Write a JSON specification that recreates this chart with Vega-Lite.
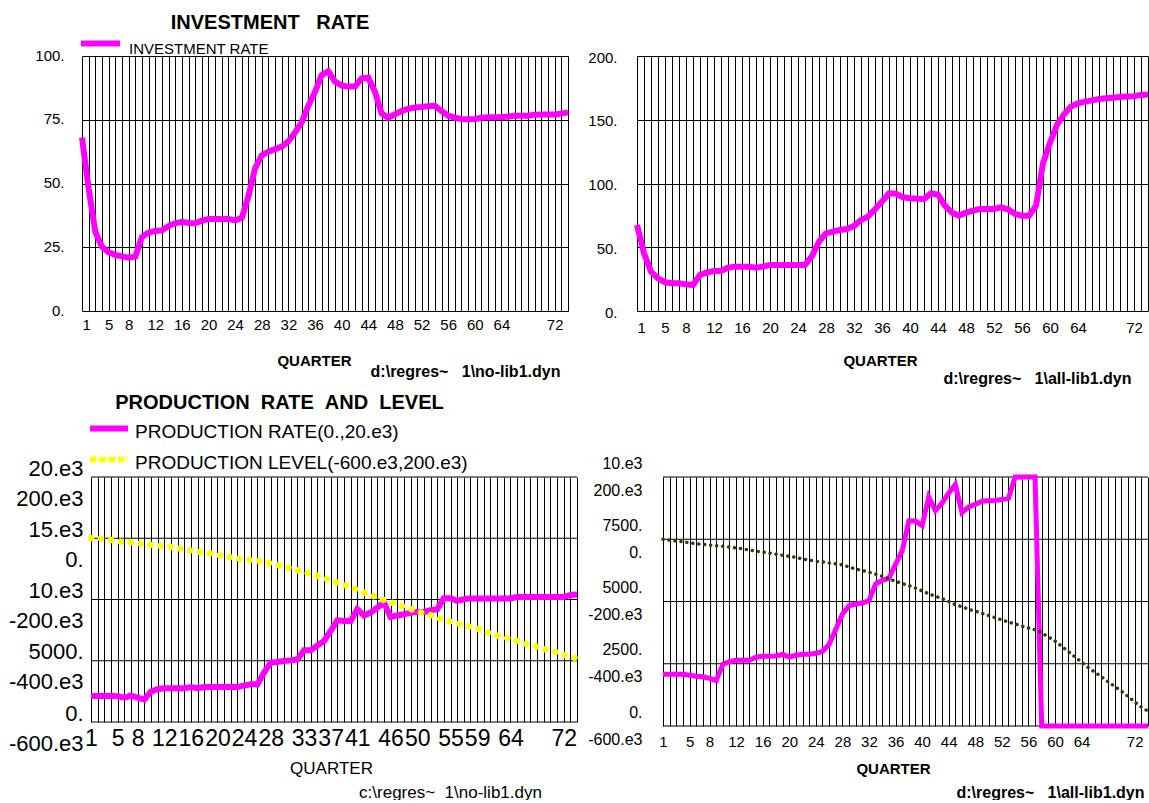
{
  "$schema": "https://vega.github.io/schema/vega-lite/v6.json",
  "background": "white",
  "padding": {"left": 8, "top": 13, "right": 0, "bottom": 0},
  "columns": 2,
  "bounds": "flush",
  "spacing": {"row": 166, "column": 60},
  "resolve": {"scale": {"color": "independent", "x": "independent", "y": "independent"}, "legend": {"color": "independent"}},
  "config": {
    "font": "Liberation Sans",
    "view": {"stroke": null},
    "axis": {"domain": false, "ticks": false, "labelColor": "#000", "titleColor": "#000", "gridColor": "#000", "gridOpacity": 1, "gridWidth": 1, "labelOverlap": false, "labelBound": false, "labelFont": "Liberation Sans", "titleFont": "Liberation Sans", "titlePadding": 0},
    "legend": {"labelColor": "#000", "labelFont": "Liberation Sans", "padding": 0, "labelLimit": 0},
    "title": {"color": "#000"}
  },
  "datasets": {
    "d": [
      {"q":1,"inv1":68,"inv2":67.5,"rate1":2122,"level1":0,"rate2":2076,"level2":0},
      {"q":2,"inv1":48,"inv2":45.3,"rate1":2122,"level1":0,"rate2":2076,"level2":-3000},
      {"q":3,"inv1":31,"inv2":30.9,"rate1":2122,"level1":-2000,"rate2":2076,"level2":-5500},
      {"q":4,"inv1":25.2,"inv2":25.6,"rate1":2122,"level1":-5600,"rate2":2076,"level2":-8000},
      {"q":5,"inv1":23,"inv2":22.5,"rate1":2095,"level1":-10000,"rate2":2040,"level2":-11500},
      {"q":6,"inv1":22,"inv2":21.7,"rate1":1990,"level1":-12000,"rate2":1996,"level2":-14000},
      {"q":7,"inv1":21.4,"inv2":21.7,"rate1":2150,"level1":-12500,"rate2":1980,"level2":-16500},
      {"q":8,"inv1":20.9,"inv2":20.9,"rate1":1990,"level1":-15500,"rate2":1916,"level2":-18500},
      {"q":9,"inv1":21.3,"inv2":20.4,"rate1":1830,"level1":-19000,"rate2":1823,"level2":-20500},
      {"q":10,"inv1":29,"inv2":28.2,"rate1":2480,"level1":-22000,"rate2":2478,"level2":-22500},
      {"q":11,"inv1":30.8,"inv2":30.3,"rate1":2670,"level1":-24000,"rate2":2586,"level2":-25000},
      {"q":12,"inv1":31.4,"inv2":31.4,"rate1":2750,"level1":-27000,"rate2":2640,"level2":-28000},
      {"q":13,"inv1":31.6,"inv2":31.4,"rate1":2750,"level1":-29000,"rate2":2640,"level2":-31000},
      {"q":14,"inv1":33.3,"inv2":34,"rate1":2750,"level1":-32500,"rate2":2640,"level2":-34500},
      {"q":15,"inv1":34.4,"inv2":34.8,"rate1":2750,"level1":-36000,"rate2":2760,"level2":-38000},
      {"q":16,"inv1":35,"inv2":34.8,"rate1":2860,"level1":-40000,"rate2":2800,"level2":-41000},
      {"q":17,"inv1":34.5,"inv2":34.8,"rate1":2750,"level1":-43500,"rate2":2800,"level2":-44500},
      {"q":18,"inv1":34.4,"inv2":34,"rate1":2860,"level1":-47000,"rate2":2810,"level2":-48000},
      {"q":19,"inv1":35.4,"inv2":34.8,"rate1":2860,"level1":-50500,"rate2":2880,"level2":-51500},
      {"q":20,"inv1":36.1,"inv2":36.1,"rate1":2860,"level1":-54000,"rate2":2770,"level2":-55000},
      {"q":21,"inv1":36.1,"inv2":36.1,"rate1":2860,"level1":-58000,"rate2":2840,"level2":-58500},
      {"q":22,"inv1":36.1,"inv2":36.1,"rate1":2860,"level1":-62000,"rate2":2880,"level2":-63000},
      {"q":23,"inv1":36.1,"inv2":36.1,"rate1":2860,"level1":-66000,"rate2":2880,"level2":-67000},
      {"q":24,"inv1":35.5,"inv2":36.1,"rate1":2970,"level1":-69000,"rate2":2920,"level2":-70500},
      {"q":25,"inv1":36.5,"inv2":36.1,"rate1":3080,"level1":-71000,"rate2":2990,"level2":-73000},
      {"q":26,"inv1":45,"inv2":43,"rate1":3080,"level1":-73000,"rate2":3280,"level2":-76000},
      {"q":27,"inv1":56,"inv2":54.4,"rate1":4030,"level1":-77000,"rate2":3880,"level2":-79000},
      {"q":28,"inv1":61,"inv2":60.9,"rate1":4850,"level1":-82000,"rate2":4485,"level2":-82500},
      {"q":29,"inv1":62.5,"inv2":62.3,"rate1":4900,"level1":-87000,"rate2":4830,"level2":-89000},
      {"q":30,"inv1":63.5,"inv2":63.5,"rate1":4980,"level1":-93000,"rate2":4900,"level2":-95500},
      {"q":31,"inv1":64.5,"inv2":64.3,"rate1":5030,"level1":-99000,"rate2":4940,"level2":-100500},
      {"q":32,"inv1":66.5,"inv2":66.7,"rate1":5100,"level1":-104000,"rate2":5035,"level2":-106000},
      {"q":33,"inv1":70,"inv2":71.4,"rate1":5850,"level1":-110000,"rate2":5700,"level2":-112000},
      {"q":34,"inv1":74,"inv2":74,"rate1":5850,"level1":-117000,"rate2":5850,"level2":-119000},
      {"q":35,"inv1":80.5,"inv2":79.8,"rate1":6240,"level1":-123000,"rate2":5930,"level2":-127000},
      {"q":36,"inv1":86,"inv2":85.8,"rate1":6610,"level1":-130000,"rate2":6490,"level2":-135000},
      {"q":37,"inv1":92.5,"inv2":92.3,"rate1":7430,"level1":-137000,"rate2":7030,"level2":-142000},
      {"q":38,"inv1":94,"inv2":92,"rate1":8300,"level1":-145000,"rate2":8230,"level2":-149000},
      {"q":39,"inv1":90,"inv2":89.2,"rate1":8250,"level1":-152000,"rate2":8230,"level2":-157000},
      {"q":40,"inv1":88.4,"inv2":88.4,"rate1":8250,"level1":-160000,"rate2":8050,"level2":-166000},
      {"q":41,"inv1":88,"inv2":88,"rate1":9200,"level1":-169000,"rate2":9200,"level2":-175000},
      {"q":42,"inv1":88,"inv2":87.8,"rate1":8700,"level1":-177000,"rate2":8650,"level2":-183000},
      {"q":43,"inv1":91.2,"inv2":92.3,"rate1":8930,"level1":-185000,"rate2":8950,"level2":-191000},
      {"q":44,"inv1":91.5,"inv2":91.2,"rate1":9330,"level1":-194000,"rate2":9350,"level2":-200000},
      {"q":45,"inv1":86,"inv2":82.4,"rate1":9745,"level1":-202000,"rate2":9700,"level2":-210000},
      {"q":46,"inv1":77.5,"inv2":77.1,"rate1":8570,"level1":-209000,"rate2":8570,"level2":-217000},
      {"q":47,"inv1":75.8,"inv2":74.8,"rate1":8700,"level1":-216000,"rate2":8800,"level2":-225000},
      {"q":48,"inv1":77.1,"inv2":77.1,"rate1":8790,"level1":-223000,"rate2":8900,"level2":-231000},
      {"q":49,"inv1":78.4,"inv2":78.7,"rate1":8930,"level1":-231000,"rate2":9030,"level2":-238000},
      {"q":50,"inv1":79.3,"inv2":80,"rate1":8980,"level1":-239000,"rate2":9050,"level2":-245000},
      {"q":51,"inv1":79.8,"inv2":80,"rate1":8980,"level1":-245000,"rate2":9060,"level2":-252000},
      {"q":52,"inv1":80,"inv2":80,"rate1":9120,"level1":-251000,"rate2":9100,"level2":-259000},
      {"q":53,"inv1":80.3,"inv2":81.3,"rate1":9200,"level1":-259000,"rate2":9150,"level2":-266000},
      {"q":54,"inv1":80.5,"inv2":79.8,"rate1":10100,"level1":-267000,"rate2":10000,"level2":-272000},
      {"q":55,"inv1":78.4,"inv2":76.1,"rate1":10100,"level1":-272000,"rate2":10000,"level2":-279000},
      {"q":56,"inv1":76.6,"inv2":74.8,"rate1":9880,"level1":-278000,"rate2":10000,"level2":-285000},
      {"q":57,"inv1":75.8,"inv2":74.8,"rate1":10020,"level1":-283000,"rate2":10000,"level2":-291000},
      {"q":58,"inv1":75.3,"inv2":82.4,"rate1":10090,"level1":-289000,"rate2":0,"level2":-301000},
      {"q":59,"inv1":75.2,"inv2":115.8,"rate1":10090,"level1":-295000,"rate2":0,"level2":-314000},
      {"q":60,"inv1":75.3,"inv2":132,"rate1":10090,"level1":-304000,"rate2":0,"level2":-327000},
      {"q":61,"inv1":75.8,"inv2":145.9,"rate1":10090,"level1":-311000,"rate2":0,"level2":-344000},
      {"q":62,"inv1":76,"inv2":154.3,"rate1":10090,"level1":-318000,"rate2":0,"level2":-361000},
      {"q":63,"inv1":76,"inv2":160.3,"rate1":10090,"level1":-323000,"rate2":0,"level2":-378000},
      {"q":64,"inv1":76,"inv2":162.9,"rate1":10090,"level1":-329000,"rate2":0,"level2":-395000},
      {"q":65,"inv1":76.3,"inv2":164.2,"rate1":10200,"level1":-335000,"rate2":0,"level2":-412000},
      {"q":66,"inv1":76.6,"inv2":165.2,"rate1":10200,"level1":-342000,"rate2":0,"level2":-427000},
      {"q":67,"inv1":76.6,"inv2":166.3,"rate1":10200,"level1":-349000,"rate2":0,"level2":-442000},
      {"q":68,"inv1":76.6,"inv2":166.8,"rate1":10200,"level1":-355000,"rate2":0,"level2":-458000},
      {"q":69,"inv1":77,"inv2":167.3,"rate1":10200,"level1":-361000,"rate2":0,"level2":-473000},
      {"q":70,"inv1":77.1,"inv2":167.8,"rate1":10200,"level1":-367000,"rate2":0,"level2":-488000},
      {"q":71,"inv1":77.1,"inv2":168.3,"rate1":10200,"level1":-373000,"rate2":0,"level2":-505000},
      {"q":72,"inv1":77.1,"inv2":168.5,"rate1":10200,"level1":-380000,"rate2":0,"level2":-522000},
      {"q":73,"inv1":77.4,"inv2":169.5,"rate1":10370,"level1":-387000,"rate2":0,"level2":-539000},
      {"q":74,"inv1":77.9,"inv2":169.8,"rate1":10400,"level1":-392000,"rate2":0,"level2":-552000}
    ]
  },
  "concat": [
    {
      "width": 486, "height": 255,
      "data": {"name": "d"},
      "title": {"text": "INVESTMENT\u00a0\u00a0\u00a0RATE", "font": "Liberation Sans", "fontSize": 20, "fontWeight": "bold", "anchor": "middle", "frame": "group", "dx": -55, "dy": 16, "offset": 4},
      "mark": {"type": "line", "strokeWidth": 6},
      "encoding": {
        "x": {"field": "q", "type": "quantitative", "scale": {"domain": [1, 74], "nice": false, "zero": false},
          "axis": {"values": [1,2,3,4,5,6,7,8,9,10,11,12,13,14,15,16,17,18,19,20,21,22,23,24,25,26,27,28,29,30,31,32,33,34,35,36,37,38,39,40,41,42,43,44,45,46,47,48,49,50,51,52,53,54,55,56,57,58,59,60,61,62,63,64,65,66,67,68,69,70,71,72,73,74],
            "tickCount": 200, "grid": true, "labelExpr": "indexof([1,5,8,12,16,20,24,28,32,36,40,44,48,52,56,60,64,72], datum.value) >= 0 ? format(datum.value, 'd') : ''",
            "labelFontSize": 15, "labelPadding": 6, "title": "QUARTER", "titleFontSize": 15, "titleFontWeight": "bold", "titleX": 232, "titleY": 49, "titleAlign": "center", "titleBaseline": "middle"}},
        "y": {"field": "inv1", "type": "quantitative", "scale": {"domain": [0, 100], "nice": false},
          "axis": {"values": [0, 25, 50, 75, 100], "grid": true, "labelExpr": "datum.value + '.'", "labelFontSize": 15, "labelPadding": 18, "labelOffset": -1,
            "title": "d:\\regres~\u00a0\u00a0\u00a01\\no-lib1.dyn", "titleAngle": 0, "titleX": 383, "titleY": 315, "titleAlign": "center", "titleBaseline": "middle", "titleFontSize": 16, "titleFontWeight": "bold"}},
        "color": {"datum": "INVESTMENT RATE", "type": "nominal", "scale": {"domain": ["INVESTMENT RATE"], "range": ["#ff00ff"]},
          "legend": {"orient": "none", "legendX": -4, "legendY": -35, "title": null, "symbolType": "stroke", "symbolSize": 1521, "symbolStrokeWidth": 6, "labelFontSize": 15, "labelOffset": 6, "padding": 0, "labelBaseline": "middle", "encode": {"labels": {"update": {"dy": {"value": 5}}}}}}
      }
    },
    {
      "width": 511, "height": 255,
      "data": {"name": "d"},
      "mark": {"type": "line", "strokeWidth": 6, "color": "#ff00ff"},
      "encoding": {
        "x": {"field": "q", "type": "quantitative", "scale": {"domain": [1, 74], "nice": false, "zero": false},
          "axis": {"values": [1,2,3,4,5,6,7,8,9,10,11,12,13,14,15,16,17,18,19,20,21,22,23,24,25,26,27,28,29,30,31,32,33,34,35,36,37,38,39,40,41,42,43,44,45,46,47,48,49,50,51,52,53,54,55,56,57,58,59,60,61,62,63,64,65,66,67,68,69,70,71,72,73,74],
            "tickCount": 200, "grid": true, "labelExpr": "indexof([1,5,8,12,16,20,24,28,32,36,40,44,48,52,56,60,64,72], datum.value) >= 0 ? format(datum.value, 'd') : ''",
            "labelFontSize": 15, "labelPadding": 9, "title": "QUARTER", "titleFontSize": 15, "titleFontWeight": "bold", "titleX": 243, "titleY": 49, "titleAlign": "center", "titleBaseline": "middle"}},
        "y": {"field": "inv2", "type": "quantitative", "scale": {"domain": [0, 200], "nice": false},
          "axis": {"values": [0, 50, 100, 150, 200], "grid": true, "labelExpr": "datum.value + '.'", "labelFontSize": 15, "labelPadding": 20, "labelOffset": 1,
            "title": "d:\\regres~\u00a0\u00a0\u00a01\\all-lib1.dyn", "titleAngle": 0, "titleX": 400, "titleY": 322, "titleAlign": "center", "titleBaseline": "middle", "titleFontSize": 16, "titleFontWeight": "bold"}}
      }
    },
    {
      "width": 495, "height": 245,
      "title": {"text": "PRODUCTION\u00a0\u00a0RATE\u00a0\u00a0AND\u00a0\u00a0LEVEL", "font": "Liberation Sans", "fontSize": 20, "fontWeight": "bold", "anchor": "middle", "frame": "group", "dx": -50, "dy": 4, "offset": 4},
      "data": {"name": "d"},
      "resolve": {"scale": {"y": "independent"}},
      "layer": [
        {
          "data": {"values": [{"g": 0}, {"g": 5000}, {"g": 10000}, {"g": 15000}, {"g": 20000}]},
          "mark": {"type": "rule", "color": "#000", "strokeWidth": 1},
          "encoding": {
            "y": {"field": "g", "type": "quantitative", "scale": {"domain": [0, 20000], "nice": false}, "axis": null},
            "x": {"datum": 1, "type": "quantitative", "scale": {"domain": [-0.352, 74], "nice": false, "zero": false}},
            "x2": {"datum": 74}
          }
        },
        {
          "mark": {"type": "line", "strokeWidth": 6},
          "encoding": {
            "x": {"field": "q", "type": "quantitative", "scale": {"domain": [-0.352, 74], "nice": false, "zero": false},
              "axis": {"values": [1,2,3,4,5,6,7,8,9,10,11,12,13,14,15,16,17,18,19,20,21,22,23,24,25,26,27,28,29,30,31,32,33,34,35,36,37,38,39,40,41,42,43,44,45,46,47,48,49,50,51,52,53,54,55,56,57,58,59,60,61,62,63,64,65,66,67,68,69,70,71,72,73,74],
                "tickCount": 200, "grid": true, "labelExpr": "indexof([1,5,8,12,16,20,24,28,33,37,41,46,50,55,59,64,72], datum.value) >= 0 ? format(datum.value, 'd') : ''",
                "labelFontSize": 23, "labelPadding": 5, "title": "QUARTER", "titleFontSize": 17, "titleFontWeight": "normal", "titleX": 249, "titleY": 46, "titleAlign": "center", "titleBaseline": "middle"}},
            "y": {"field": "rate1", "type": "quantitative", "scale": {"domain": [0, 20000], "nice": false},
              "axis": {"orient": "left", "values": [0, 5000, 10000, 15000, 20000], "grid": false, "labelExpr": "datum.value >= 10000 ? (datum.value / 1000) + '.e3' : datum.value + '.'", "labelFontSize": 22, "labelPadding": -1, "labelOffset": -9,
                "title": "c:\\regres~\u00a0\u00a01\\no-lib1.dyn", "titleAngle": 0, "titleX": 368, "titleY": 315, "titleAlign": "center", "titleBaseline": "middle", "titleFontSize": 17, "titleFontWeight": "normal"}},
            "color": {"datum": "PRODUCTION RATE(0.,20.e3)", "type": "nominal",
              "scale": {"domain": ["PRODUCTION RATE(0.,20.e3)", "PRODUCTION LEVEL(-600.e3,200.e3)"], "range": ["#ff00ff", "#ffff00"]},
              "legend": {"orient": "none", "legendX": 5, "legendY": -64, "title": null, "symbolType": "stroke", "symbolSize": 1444, "symbolStrokeWidth": 6, "labelFontSize": 19, "labelOffset": 4, "clipHeight": 31, "rowPadding": 0, "padding": 0, "labelLimit": 0,
                "encode": {"symbols": {"update": {"strokeDash": [{"test": "datum.value === 'PRODUCTION LEVEL(-600.e3,200.e3)'", "value": [6.5, 2.8]}, {"value": [1, 0]}]}}, "labels": {"update": {"dy": {"value": 3}}}}}}
          }
        },
        {
          "mark": {"type": "line", "strokeWidth": 6.5, "strokeDash": [0.1, 9.9], "strokeCap": "round", "interpolate": "monotone"},
          "encoding": {
            "x": {"field": "q", "type": "quantitative", "scale": {"domain": [-0.352, 74], "nice": false, "zero": false}},
            "y": {"field": "level1", "type": "quantitative", "scale": {"domain": [-600000, 200000], "nice": false},
              "axis": {"orient": "left", "values": [-600000, -400000, -200000, 0, 200000], "grid": false, "labelExpr": "datum.value == 0 ? '0.' : (datum.value / 1000) + '.e3'", "labelFontSize": 22, "labelPadding": -1, "labelOffset": 21, "title": null}},
            "color": {"datum": "PRODUCTION LEVEL(-600.e3,200.e3)", "type": "nominal"}
          }
        }
      ]
    },
    {
      "width": 511, "height": 249,
      "data": {"name": "d"},
      "resolve": {"scale": {"y": "independent"}},
      "layer": [
        {
          "data": {"values": [{"g": 0}, {"g": 2500}, {"g": 5000}, {"g": 7500}, {"g": 10000}]},
          "mark": {"type": "rule", "color": "#000", "strokeWidth": 1},
          "encoding": {
            "y": {"field": "g", "type": "quantitative", "scale": {"domain": [0, 10000], "nice": false}, "axis": null},
            "x": {"datum": 1, "type": "quantitative", "scale": {"domain": [-2.913, 74], "nice": false, "zero": false}},
            "x2": {"datum": 74}
          }
        },
        {
          "mark": {"type": "line", "strokeWidth": 5, "color": "#ff00ff"},
          "encoding": {
            "x": {"field": "q", "type": "quantitative", "scale": {"domain": [-2.913, 74], "nice": false, "zero": false},
              "axis": {"values": [1,2,3,4,5,6,7,8,9,10,11,12,13,14,15,16,17,18,19,20,21,22,23,24,25,26,27,28,29,30,31,32,33,34,35,36,37,38,39,40,41,42,43,44,45,46,47,48,49,50,51,52,53,54,55,56,57,58,59,60,61,62,63,64,65,66,67,68,69,70,71,72,73,74],
                "tickCount": 200, "grid": true, "labelExpr": "indexof([1,5,8,12,16,20,24,28,32,36,40,44,48,52,56,60,64,72], datum.value) >= 0 ? format(datum.value, 'd') : ''",
                "labelFontSize": 15, "labelPadding": 8, "title": "QUARTER", "titleFontSize": 15, "titleFontWeight": "bold", "titleX": 256, "titleY": 42, "titleAlign": "center", "titleBaseline": "middle"}},
            "y": {"field": "rate2", "type": "quantitative", "scale": {"domain": [0, 10000], "nice": false},
              "axis": {"orient": "left", "values": [0, 2500, 5000, 7500, 10000], "grid": false, "labelExpr": "datum.value >= 10000 ? (datum.value / 1000) + '.e3' : datum.value + '.'", "labelFontSize": 16, "labelPadding": -5, "labelOffset": -14,
                "title": "d:\\regres~\u00a0\u00a0\u00a01\\all-lib1.dyn", "titleAngle": 0, "titleX": 413, "titleY": 315, "titleAlign": "center", "titleBaseline": "middle", "titleFontSize": 16, "titleFontWeight": "bold"}}
          }
        },
        {
          "mark": {"type": "line", "strokeWidth": 3.5, "color": "#3a3a12", "strokeDash": [0.1, 5.9], "strokeCap": "round", "interpolate": "monotone"},
          "encoding": {
            "x": {"field": "q", "type": "quantitative", "scale": {"domain": [-2.913, 74], "nice": false, "zero": false}},
            "y": {"field": "level2", "type": "quantitative", "scale": {"domain": [-600000, 200000], "nice": false},
              "axis": {"orient": "left", "values": [-600000, -400000, -200000, 0, 200000], "grid": false, "labelExpr": "datum.value == 0 ? '0.' : (datum.value / 1000) + '.e3'", "labelFontSize": 16, "labelPadding": -5, "labelOffset": 13, "title": null}}
          }
        }
      ]
    }
  ]
}
